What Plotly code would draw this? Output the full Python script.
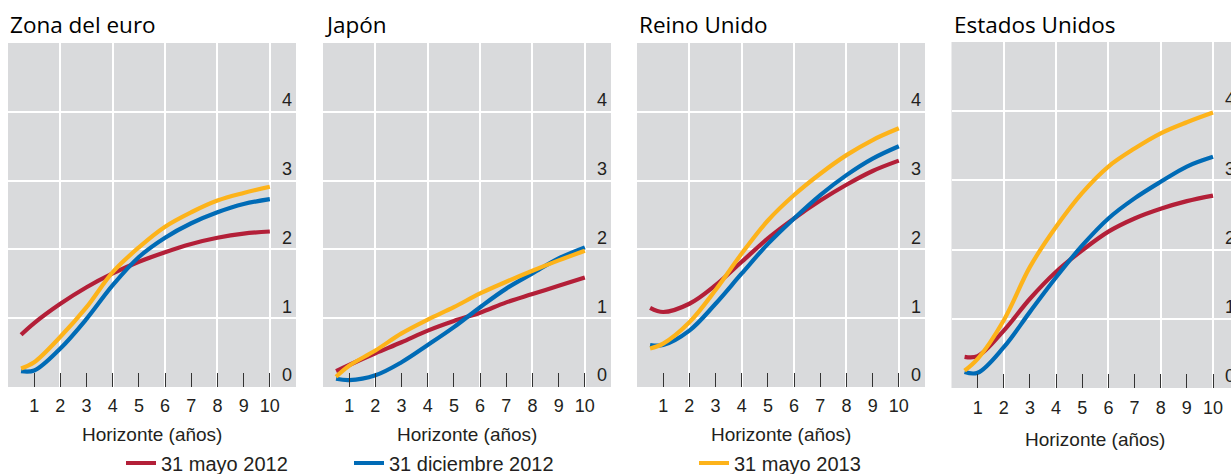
import plotly.graph_objects as go

W, H = 1231, 474

# ---- data ----
horizon = [0.5, 1, 2, 3, 4, 5, 6, 7, 8, 9, 10]
x_ticks = [1, 2, 3, 4, 5, 6, 7, 8, 9, 10]
y_ticks = [0, 1, 2, 3, 4]
panel_titles = ["Zona del euro", "Japón", "Reino Unido", "Estados Unidos"]
series_names = ["31 mayo 2012", "31 diciembre 2012", "31 mayo 2013"]
series_colors = ["#B31F38", "#006BB6", "#FDB31A"]

euro_may12 = [0.76, 0.93, 1.21, 1.45, 1.65, 1.82, 1.96, 2.08, 2.17, 2.23, 2.26]
euro_dec12 = [0.23, 0.24, 0.56, 0.99, 1.48, 1.89, 2.17, 2.38, 2.54, 2.66, 2.73]
euro_may13 = [0.27, 0.36, 0.73, 1.16, 1.67, 2.03, 2.33, 2.54, 2.71, 2.82, 2.91]

japan_may12 = [0.23, 0.32, 0.49, 0.65, 0.82, 0.96, 1.08, 1.23, 1.35, 1.47, 1.59]
japan_dec12 = [0.12, 0.10, 0.17, 0.36, 0.61, 0.87, 1.16, 1.43, 1.65, 1.87, 2.03]
japan_may13 = [0.15, 0.31, 0.53, 0.78, 0.98, 1.16, 1.36, 1.53, 1.69, 1.84, 1.98]

uk_may12 = [1.15, 1.09, 1.21, 1.48, 1.82, 2.16, 2.45, 2.71, 2.94, 3.14, 3.29]
uk_dec12 = [0.61, 0.61, 0.82, 1.21, 1.65, 2.08, 2.45, 2.79, 3.08, 3.32, 3.50]
uk_may13 = [0.56, 0.63, 0.94, 1.41, 1.94, 2.42, 2.79, 3.10, 3.37, 3.59, 3.76]

us_may12 = [0.45, 0.46, 0.83, 1.29, 1.68, 1.99, 2.26, 2.45, 2.59, 2.70, 2.78]
us_dec12 = [0.23, 0.22, 0.59, 1.10, 1.60, 2.06, 2.45, 2.74, 2.98, 3.20, 3.34]
us_may13 = [0.25, 0.42, 0.98, 1.75, 2.33, 2.82, 3.20, 3.46, 3.68, 3.84, 3.98]

panel_data = [
    [euro_may12, euro_dec12, euro_may13],
    [japan_may12, japan_dec12, japan_may13],
    [uk_may12, uk_dec12, uk_may13],
    [us_may12, us_dec12, us_may13],
]

# ---- layout geometry (pixels) ----
x_dom_px = [(8, 296), (323, 611), (637, 925), (951.5, 1231)]
x_ranges = [[0, 11], [0, 11], [0, 11], [0, (1231 - 951.5) / 26.15]]
y_px = [(43, 387), (43, 387), (43, 387), (42, 388)]
xtitle_y_px = [434, 434, 434, 439]
tick_standoff = [6, 6, 6, 7]

TICK_FONT = dict(family="Liberation Sans, Arial, sans-serif", size=18, color="#231F20")
BG = "#D9DADC"

fig = go.Figure()
legend_ids = ["legend", "legend2", "legend3"]

for p, series in enumerate(panel_data):
    sfx = "" if p == 0 else str(p + 1)
    for s, vals in enumerate(series):
        fig.add_trace(go.Scatter(
            x=horizon, y=vals, mode="lines",
            line=dict(color=series_colors[s], width=4.2, shape="spline", smoothing=1.0),
            name=series_names[s], showlegend=(p == 0), legend=legend_ids[s],
            xaxis="x" + sfx, yaxis="y" + sfx, hoverinfo="skip",
        ))

layout = dict(
    width=W, height=H, margin=dict(l=0, r=0, t=0, b=0, autoexpand=False),
    paper_bgcolor="white", plot_bgcolor=BG, showlegend=True,
    font=TICK_FONT,
)

annotations = []
for p in range(4):
    sfx = "" if p == 0 else str(p + 1)
    x0, x1 = x_dom_px[p]
    yt, yb = y_px[p]
    layout["xaxis" + sfx] = dict(
        domain=[x0 / W, x1 / W], range=x_ranges[p], anchor="y" + sfx,
        tickmode="array", tickvals=x_ticks, ticktext=[str(v) for v in x_ticks],
        ticks="inside", ticklen=14, tickwidth=1.4, tickcolor="#333333",
        showgrid=False, zeroline=False, showline=False,
        tickfont=TICK_FONT, ticklabelstandoff=tick_standoff[p],
        minor=dict(tickmode="array", tickvals=[2, 4, 6, 8, 10], showgrid=True,
                   gridcolor="white", gridwidth=2, ticks=""),
        fixedrange=True, automargin=False,
    )
    layout["yaxis" + sfx] = dict(
        domain=[1 - yb / H, 1 - yt / H], range=[0, 5], anchor="x" + sfx,
        tickmode="array", tickvals=[1, 2, 3, 4], showticklabels=False,
        showgrid=True, gridcolor="white", gridwidth=2, zeroline=False,
        ticks="", showline=False, fixedrange=True, automargin=False,
    )
    # panel title
    annotations.append(dict(
        text=panel_titles[p], xref="paper", yref="paper",
        x=x0 / W, y=1 - 24 / H, xanchor="left", yanchor="middle",
        showarrow=False, font=dict(family="Open Sans, sans-serif", size=22.5, color="#000000"),
    ))
    # x-axis title
    annotations.append(dict(
        text="Horizonte (años)", xref="x" + sfx, yref="paper",
        x=5.5, y=1 - xtitle_y_px[p] / H, xanchor="center", yanchor="middle",
        showarrow=False, font=dict(family="Liberation Sans, Arial, sans-serif", size=19, color="#231F20"),
    ))
    # y tick labels inside, right side, above gridlines
    for v in y_ticks:
        annotations.append(dict(
            text=str(v), xref="x" + sfx, yref="y" + sfx,
            x=10.38, y=v + 0.17, xanchor="left", yanchor="middle",
            showarrow=False, font=TICK_FONT,
        ))

layout["annotations"] = annotations

leg_common = dict(orientation="h", yanchor="middle", xanchor="left", bgcolor="rgba(0,0,0,0)",
                  font=dict(family="Liberation Sans, Arial, sans-serif", size=20, color="#231F20"),
                  itemwidth=30, tracegroupgap=0)
legend_x_px = [121, 349, 694]
for i, lid in enumerate(legend_ids):
    d = dict(leg_common)
    d.update(x=legend_x_px[i] / W, y=1 - 463 / H)
    layout[lid] = d

fig.update_layout(**layout)
fig.write_html("out.html", config={"displayModeBar": False},
               post_script="document.body.style.margin='0';document.body.style.padding='0';")
